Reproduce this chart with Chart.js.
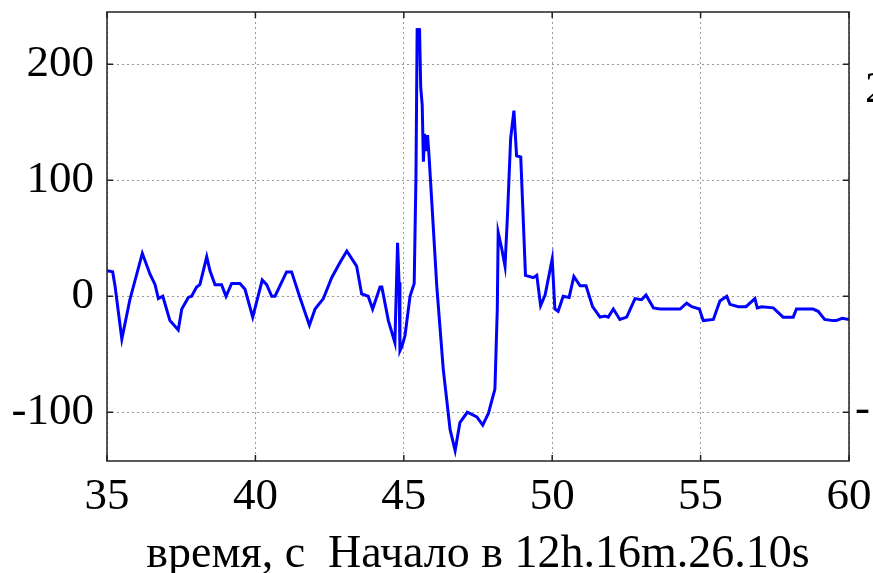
<!DOCTYPE html>
<html>
<head>
<meta charset="utf-8">
<script src="https://cdn.jsdelivr.net/npm/chart.js@4.4.0/dist/chart.umd.min.js"></script>
<style>
  html, body { margin: 0; padding: 0; background: #fff; }
  #wrap { width: 873px; height: 573px; }
</style>
</head>
<body>
<div id="wrap"><canvas id="grafico" width="873" height="573"></canvas></div>
<script>
// tiempo (s) y valores
var tiempos = [
  35.0, 35.19, 35.27, 35.5, 35.77, 36.19, 36.45, 36.62, 36.73, 36.88, 37.12, 37.4, 37.52, 37.74, 37.85,
  38.02, 38.13, 38.36, 38.47, 38.64, 38.86, 39.01, 39.2, 39.48, 39.65, 39.91, 40.23, 40.38, 40.55, 40.66,
  41.05, 41.22, 41.5, 41.82, 42.01, 42.29, 42.57, 42.85, 43.08, 43.41, 43.58, 43.8, 43.95, 44.2, 44.26,
  44.48, 44.7, 44.79, 44.84, 44.87, 44.94, 45.04, 45.21, 45.35, 45.41, 45.45, 45.5, 45.53, 45.57, 45.62,
  45.66, 45.7, 45.75, 45.8, 45.85, 45.93, 46.11, 46.33, 46.56, 46.73, 46.89, 47.14, 47.46, 47.66, 47.85,
  48.07, 48.15, 48.18, 48.3, 48.41, 48.49, 48.6, 48.71, 48.8, 48.94, 49.1, 49.36, 49.48, 49.61, 49.76,
  50.0, 50.09, 50.2, 50.37, 50.57, 50.73, 50.94, 51.14, 51.36, 51.61, 51.78, 51.89, 52.06, 52.28, 52.51,
  52.79, 53.01, 53.16, 53.41, 53.63, 54.31, 54.53, 54.7, 54.96, 55.09, 55.43, 55.65, 55.88, 55.99, 56.27,
  56.53, 56.83, 56.91, 57.06, 57.45, 57.78, 58.12, 58.23, 58.79, 58.96, 59.18, 59.46, 59.57, 59.77, 60.0
];
var valores = [
  22, 21, 9, -37, -3, 37, 19, 10, -2, 0, -21, -29, -11, -1, 0,
  8, 10, 34, 22, 10, 10, 0, 11, 11, 6, -18, 14, 10, 0, 0,
  21, 21, -1, -25, -11, -2, 16, 29, 39, 26, 2, 0, -11, 8, 8,
  -21, -40, 46, 12, -47, -43, -34, 0, 11, 104, 231, 222, 231, 180, 165,
  116, 140, 125, 139, 121, 87, 9, -63, -115, -133, -109, -100, -104, -111, -101,
  -80, -11, 55, 41, 26, 68, 136, 160, 121, 120, 18, 16, 18, -8, 1,
  32, -11, -13, 0, -1, 17, 9, 9, -9, -18, -17, -18, -11, -20, -18,
  -2, -3, 1, -10, -11, -11, -6, -9, -11, -21, -20, -4, 0, -7, -9,
  -9, -2, -10, -9, -10, -18, -18, -11, -11, -13, -20, -21, -21, -19, -20
];
var ticksX = [35, 40, 45, 50, 55, 60];
var ticksY = [-100, 0, 100, 200];
var tituloX = 'время, с  Начало в 12h.16m.26.10s';

var puntos = tiempos.map(function (t, i) { return { x: t, y: valores[i] }; });
var fuente = '"Liberation Serif", "Times New Roman", serif';

// Marco negro y marcas hacia dentro, como en el original
var marcoPlugin = {
  id: 'marco',
  afterDraw: function (chart) {
    var ctx = chart.ctx;
    var a = chart.chartArea;
    var sx = chart.scales.x, sy = chart.scales.y;
    ctx.save();
    ctx.strokeStyle = '#222';
    ctx.lineWidth = 1.5;
    ctx.strokeRect(a.left, a.top, a.right - a.left, a.bottom - a.top);
    ctx.beginPath();
    ticksX.forEach(function (v) {
      var px = sx.getPixelForValue(v);
      ctx.moveTo(px, a.bottom); ctx.lineTo(px, a.bottom - 6);
      ctx.moveTo(px, a.top); ctx.lineTo(px, a.top + 6);
    });
    ticksY.forEach(function (v) {
      var py = sy.getPixelForValue(v);
      ctx.moveTo(a.left, py); ctx.lineTo(a.left + 6, py);
      ctx.moveTo(a.right, py); ctx.lineTo(a.right - 6, py);
    });
    ctx.stroke();
    // restos de la gráfica vecina, cortados por el borde
    ctx.fillStyle = '#000';
    ctx.font = '45px ' + fuente;
    ctx.textBaseline = 'middle';
    ctx.fillText('-', 855, 410);
    ctx.fillText('2', 865, 90);
    ctx.restore();
  }
};

var ctx = document.getElementById('grafico').getContext('2d');
window.miGrafico = new Chart(ctx, {
  type: 'line',
  data: {
    datasets: [{
      label: 'señal',
      data: puntos,
      borderColor: '#0000ff',
      borderWidth: 3,
      pointRadius: 0,
      tension: 0,
      fill: false
    }]
  },
  options: {
    responsive: false,
    animation: false,
    layout: { padding: { left: 0, right: 24, top: 12, bottom: 0 } },
    plugins: { legend: { display: false }, tooltip: { enabled: false } },
    scales: {
      x: {
        type: 'linear',
        min: 35,
        max: 60,
        afterBuildTicks: function (scale) { scale.ticks = ticksX.map(function (v) { return { value: v }; }); },
        afterFit: function (scale) {
          scale.height = 112;
          scale.paddingLeft = 0;
          scale.paddingRight = 0;
        },
        grid: { color: '#9a9a9a', lineWidth: 1, drawTicks: false },
        border: { display: false, dash: [2, 3] },
        ticks: {
          padding: 9,
          color: '#000',
          maxRotation: 0,
          font: { family: fuente, size: 45 }
        },
        title: {
          display: true,
          text: tituloX,
          color: '#000',
          padding: { top: 0, bottom: 0 },
          font: { family: fuente, size: 46, lineHeight: 0.8 }
        }
      },
      y: {
        type: 'linear',
        min: -142,
        max: 245,
        afterBuildTicks: function (scale) { scale.ticks = ticksY.map(function (v) { return { value: v }; }); },
        afterFit: function (scale) {
          scale.width = 107;
          scale.paddingTop = 0;
          scale.paddingBottom = 0;
        },
        grid: { color: '#9a9a9a', lineWidth: 1, drawTicks: false },
        border: { display: false, dash: [2, 3] },
        ticks: {
          padding: 13,
          color: '#000',
          font: { family: fuente, size: 45 }
        }
      }
    }
  },
  plugins: [marcoPlugin]
});
</script>
</body>
</html>
